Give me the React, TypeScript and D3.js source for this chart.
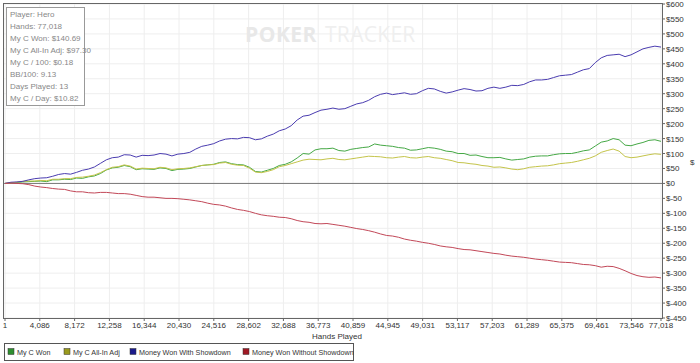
import React from "react";
import * as d3 from "d3";

// hands played sample points
const hands = [
  0, 700, 1400, 2100, 2800, 3500, 4200, 4900, 5600, 6300, 7000, 7700, 8400, 9100, 9800,
  10500, 11200, 11900, 12600, 13300, 14000, 14700, 15400, 16100, 16800, 17500, 18200, 18900,
  19600, 20300, 21000, 21700, 22400, 23100, 23800, 24500, 25200, 25900, 26600, 27300, 28000,
  28700, 29400, 30100, 30800, 31500, 32200, 32900, 33600, 34300, 35000, 35700, 36400, 37100,
  37800, 38500, 39200, 39900, 40600, 41300, 42000, 42700, 43400, 44100, 44800, 45500, 46200,
  46900, 47600, 48300, 49000, 49700, 50400, 51100, 51800, 52500, 53200, 53900, 54600, 55300,
  56000, 56700, 57400, 58100, 58800, 59500, 60200, 60900, 61600, 62300, 63000, 63700, 64400,
  65100, 65800, 66500, 67200, 67900, 68600, 69300, 70000, 70700, 71400, 72100, 72800, 73500,
  74200, 74900, 75600, 76300, 77018,
];

const myCWon = [
  0, 2, 3, 5, 6, 7, 8, 6, 12, 12, 14, 13, 18, 17, 22, 25, 33, 45, 52, 54, 60, 56, 46, 49, 48,
  47, 52, 50, 43, 47, 48, 50, 55, 60, 62, 64, 70, 72, 66, 63, 62, 54, 40, 38, 44, 50, 60, 64,
  72, 85, 100, 98, 112, 116, 116, 118, 110, 108, 114, 117, 120, 122, 132, 128, 126, 124, 120,
  118, 111, 112, 116, 120, 118, 114, 108, 106, 100, 100, 94, 95, 90, 86, 86, 87, 82, 78, 80,
  82, 88, 91, 92, 92, 96, 99, 100, 100, 104, 109, 112, 125, 138, 142, 150, 146, 128, 126, 132,
  137, 144, 146, 140.69,
];

const allInAdj = [
  0, 2, 4, 7, 8, 8, 10, 9, 14, 14, 16, 16, 20, 21, 24, 28, 36, 46, 54, 56, 62, 58, 48, 51, 50,
  49, 54, 52, 46, 49, 50, 52, 56, 60, 62, 63, 68, 70, 64, 61, 60, 51, 38, 36, 40, 46, 56, 60,
  66, 72, 78, 81, 80, 79, 82, 84, 80, 79, 82, 85, 88, 91, 90, 89, 86, 85, 88, 90, 86, 85, 88,
  90, 86, 84, 80, 76, 70, 69, 66, 64, 60, 58, 54, 55, 52, 48, 46, 49, 54, 56, 58, 59, 62, 66,
  68, 70, 74, 79, 84, 92, 104, 110, 115, 108, 90, 86, 88, 92, 96, 99, 97.3,
];

const withShowdown = [
  0, 4, 5, 7, 12, 16, 18, 19, 24, 30, 33, 31, 37, 44, 48, 55, 67, 79, 86, 88, 96, 95, 88, 94,
  93, 95, 100, 98, 92, 98, 100, 104, 115, 124, 128, 133, 142, 148, 150, 149, 154, 153, 146,
  149, 158, 165, 176, 182, 193, 212, 225, 228, 237, 245, 248, 252, 248, 250, 258, 266, 270,
  278, 290, 298, 302, 297, 300, 303, 298, 300, 310, 318, 316, 308, 302, 306, 312, 317, 314,
  309, 310, 318, 322, 318, 322, 328, 327, 331, 340, 346, 346, 348, 354, 360, 362, 364, 372,
  380, 384, 404, 420, 428, 430, 432, 424, 430, 440, 450, 455, 459, 456,
];

const withoutShowdown = [
  0, 1, 0, -1, -4, -9, -12, -14, -17, -19, -20, -25, -28, -28, -31, -32, -30, -30, -32, -34,
  -34, -36, -40, -44, -46, -46, -48, -50, -50, -51, -53, -55, -58, -61, -66, -70, -72, -76,
  -82, -87, -90, -94, -100, -105, -108, -110, -113, -114, -118, -124, -128, -130, -134, -135,
  -134, -137, -140, -143, -147, -151, -154, -158, -163, -169, -174, -176, -180, -186, -190,
  -193, -197, -200, -204, -209, -212, -214, -218, -221, -222, -225, -228, -231, -234, -236,
  -240, -243, -245, -247, -250, -253, -255, -257, -260, -263, -264, -265, -268, -271, -272,
  -275, -280, -277, -278, -284, -292, -301, -308, -312, -314, -313, -316,
];

const xTicks = [
  1, 4086, 8172, 12258, 16344, 20430, 24516, 28602, 32688, 36773, 40859, 44945, 49031,
  53117, 57203, 61289, 65375, 69461, 73546, 77018,
];

const yTicks = [
  600, 550, 500, 450, 400, 350, 300, 250, 200, 150, 100, 50, 0, -50, -100, -150, -200, -250,
  -300, -350, -400, -450,
];

const stats = [
  "Player: Hero",
  "Hands: 77,018",
  "My C Won: $140.69",
  "My C All-In Adj: $97.30",
  "My C / 100: $0.18",
  "BB/100: 9.13",
  "Days Played: 13",
  "My C / Day: $10.82",
];

const series = [
  { name: "My C Won", values: myCWon, line: "#45a845", box: "#2f8f2f" },
  { name: "My C All-In Adj", values: allInAdj, line: "#c4c44a", box: "#9a9a1e" },
  { name: "Money Won With Showdown", values: withShowdown, line: "#4a3cb0", box: "#1c1c8c" },
  { name: "Money Won Without Showdown", values: withoutShowdown, line: "#c24858", box: "#a01824" },
];

const font = "'Liberation Sans', Arial, sans-serif";

export default function App() {
  const left = 4, right = 662, top = 4, bottom = 318;
  const x = d3.scaleLinear().domain([1, 77018]).range([left + 1, right - 1]);
  const y = d3.scaleLinear().domain([-450, 600]).range([bottom, top]);

  const legendItems = [8, 64, 130, 243];

  return (
    <svg width={700} height={363} style={{ position: "absolute", left: 0, top: 0, background: "#fff" }} fontFamily={font}>
      {/* grid */}
      {yTicks.map((t) => (
        <line key={"gy" + t} x1={left} x2={right} y1={y(t)} y2={y(t)} stroke="#eeeeee" />
      ))}
      {xTicks.map((t) => (
        <line key={"gx" + t} x1={x(t)} x2={x(t)} y1={top} y2={bottom} stroke="#eeeeee" />
      ))}

      {/* watermark */}
      <text x={245} y={42} fontSize={21} fill="#e8e8e8" fontWeight="bold" fontFamily="'Open Sans', sans-serif" letterSpacing={0.5}>POKER</text>
      <text x={325} y={42} fontSize={21} fill="#efefef" fontFamily="'Open Sans', sans-serif" letterSpacing={0.3}>TRACKER</text>

      {/* zero line */}
      <line x1={left} x2={right} y1={y(0)} y2={y(0)} stroke="#777" strokeWidth={1} />

      {/* series */}
      {series.map((s) => {
        const path = d3
          .line<number>()
          .x((_, i) => x(Math.max(1, hands[i])))
          .y((d) => y(d))(s.values);
        return <path key={s.name} d={path || ""} fill="none" stroke={s.line} strokeWidth={1} />;
      })}

      {/* frame */}
      <rect x={left - 0.5} y={top - 0.5} width={right - left + 1} height={bottom - top + 1} fill="none" stroke="#666" />

      {/* y axis on right */}
      {yTicks.map((t) => (
        <g key={"yt" + t}>
          <line x1={right} x2={right + 3} y1={y(t)} y2={y(t)} stroke="#666" />
          <text x={right + 4} y={y(t) + 3} fontSize={8} fill="#333">
            {t < 0 ? `$-${Math.abs(t)}` : `$${t}`}
          </text>
        </g>
      ))}
      <text x={690} y={165} fontSize={8} fill="#333">$</text>

      {/* x axis */}
      {xTicks.map((t) => (
        <g key={"xt" + t}>
          <line x1={x(t)} x2={x(t)} y1={bottom} y2={bottom + 3} stroke="#666" />
          <text x={x(t)} y={bottom + 10} fontSize={8} fill="#333" textAnchor="middle">
            {d3.format(",")(t)}
          </text>
        </g>
      ))}
      <text x={337} y={339} fontSize={8} fill="#333" textAnchor="middle">Hands Played</text>

      {/* stats box */}
      <rect x={6.5} y={7.5} width={78} height={98} fill="#fff" stroke="#999" />
      {stats.map((s, i) => (
        <text key={s} x={10} y={17 + i * 12} fontSize={8} fill="#888">{s}</text>
      ))}

      {/* legend */}
      <rect x={4.5} y={343.5} width={349} height={17} fill="#fff" stroke="#555" />
      {series.map((s, i) => (
        <g key={"lg" + s.name} transform={`translate(${legendItems[i]},352)`}>
          <rect x={0} y={-3.5} width={6} height={6} fill={s.box} stroke="#333" strokeWidth={0.5} />
          <text x={9} y={2.5} fontSize={7.2} fill="#333">{s.name}</text>
        </g>
      ))}
    </svg>
  );
}
